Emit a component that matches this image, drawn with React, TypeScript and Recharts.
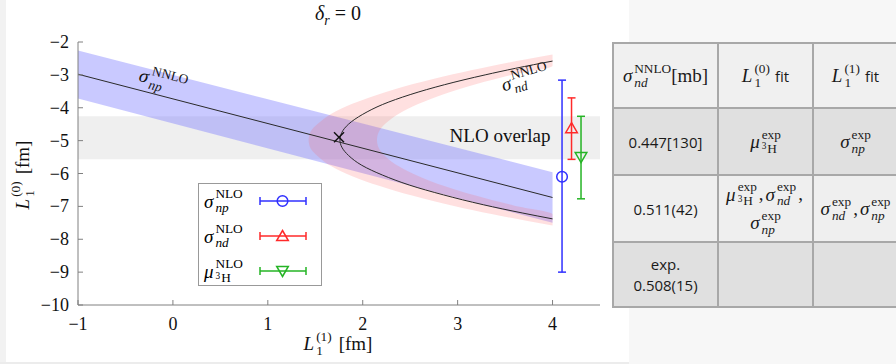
import React from 'react';
import { ComposedChart, XAxis, YAxis, Area, Line, Scatter, ErrorBar } from 'recharts';

const SERIF = '"Liberation Serif", "DejaVu Serif", serif';
const SANS = '"Open Sans", "Liberation Sans", sans-serif';

// axis ticks
const xTicks = [-1, 0, 1, 2, 3, 4];
const yTicks = [-10, -9, -8, -7, -6, -5, -4, -3, -2];
const xDomain = [-1, 4.5];
const yDomain = [-10, -2];

// sigma_np NNLO band: x-extent of the band for each L1(0) value
const npBandY = [-2.26, -3.72, -5.96, -7.5];
const npBandLeft = [-1, -1, 1.96, 4];
const npBandRight = [-1, 0.97, 4, 4];

// sigma_np NNLO central line
const npLineY = [-2.98, -6.73];
const npLineX = [-1, 4];

// sigma_nd NNLO central curve
const ndCurveY = [-2.58, -2.8, -3.0, -3.3, -3.6, -3.9, -4.2, -4.5, -4.75, -4.98, -5.2, -5.45, -5.75, -6.05, -6.35, -6.65, -6.95, -7.2, -7.38];
const ndCurveX = [4.0, 3.61, 3.29, 2.86, 2.5, 2.21, 2.0, 1.85, 1.78, 1.76, 1.78, 1.85, 1.99, 2.21, 2.49, 2.85, 3.27, 3.68, 4.0];

// sigma_nd NNLO band
const ndBandY = [-2.38, -2.53, -2.72, -2.98, -3.28, -3.58, -3.88, -4.18, -4.48, -4.73, -4.98, -5.23, -5.48, -5.78, -6.08, -6.38, -6.68, -6.98, -7.24, -7.43, -7.58];
const ndBandLeft = [4.0, 3.71, 3.37, 2.95, 2.53, 2.18, 1.89, 1.67, 1.53, 1.45, 1.43, 1.45, 1.53, 1.67, 1.89, 2.18, 2.53, 2.95, 3.37, 3.71, 4.0];
const ndBandRight = [4.0, 4.0, 4.0, 3.6, 3.2, 2.86, 2.59, 2.38, 2.24, 2.17, 2.15, 2.17, 2.24, 2.38, 2.59, 2.86, 3.2, 3.6, 4.0, 4.0, 4.0];

// NLO overlap region
const overlapY = [-4.26, -5.57];
const overlapX = [-1, 4.5];

// intersection marker
const crossX = [1.75];
const crossY = [-4.9];

// NLO determinations with error bars
const nloX = [4.1, 4.2, 4.3];
const nloY = [-6.1, -4.62, -5.5];
const nloErrDown = [2.9, 0.95, 1.27];
const nloErrUp = [2.94, 0.92, 1.24];

const nloColors = ['#3030ff', '#ff2a2a', '#25b425'];
const AXIS = '#808080';

const fmt = (v: number) => (v < 0 ? '\u2212' + Math.abs(v) : String(v));

const BottomTick = (p: any) => (
  <g>
    <line x1={p.x} y1={p.y} x2={p.x} y2={p.y - 5} stroke={AXIS} />
    <text x={p.x} y={p.y + 25} textAnchor="middle" fontFamily={SERIF} fontSize={18} fill="#111">{fmt(p.payload.value)}</text>
  </g>
);
const TopTick = (p: any) => <line x1={p.x} y1={p.y} x2={p.x} y2={p.y + 5} stroke={AXIS} />;
const LeftTick = (p: any) => (
  <g>
    <line x1={p.x} y1={p.y} x2={p.x + 5} y2={p.y} stroke={AXIS} />
    <text x={p.x - 9} y={p.y + 6} textAnchor="end" fontFamily={SERIF} fontSize={18} fill="#111">{fmt(p.payload.value)}</text>
  </g>
);
const RightTick = (p: any) => <line x1={p.x} y1={p.y} x2={p.x - 5} y2={p.y} stroke={AXIS} />;

const markCircle = (color: string) => (p: any) => (
  <circle cx={p.cx} cy={p.cy} r={5.3} fill="none" stroke={color} strokeWidth={1.5} />
);
const markTriUp = (color: string) => (p: any) => (
  <path d={`M${p.cx},${p.cy - 5.5} L${p.cx + 5.8},${p.cy + 4.5} L${p.cx - 5.8},${p.cy + 4.5} Z`} fill="none" stroke={color} strokeWidth={1.5} />
);
const markTriDown = (color: string) => (p: any) => (
  <path d={`M${p.cx},${p.cy + 5.5} L${p.cx + 5.8},${p.cy - 4.5} L${p.cx - 5.8},${p.cy - 4.5} Z`} fill="none" stroke={color} strokeWidth={1.5} />
);
const markCross = (p: any) => (
  <g stroke="#111" strokeWidth={1.4}>
    <line x1={p.cx - 5} y1={p.cy - 5} x2={p.cx + 5} y2={p.cy + 5} />
    <line x1={p.cx - 5} y1={p.cy + 5} x2={p.cx + 5} y2={p.cy - 5} />
  </g>
);

function Scr({ base, sup, sub, size, baseItalic = true, subItalic = true, font = SERIF }: any) {
  return (
    <span style={{ display: 'inline-flex', alignItems: 'center', fontFamily: font, lineHeight: 1 }}>
      <span style={{ fontStyle: baseItalic ? 'italic' : 'normal', fontSize: size }}>{base}</span>
      <span style={{ display: 'inline-flex', flexDirection: 'column', fontSize: size * 0.7, lineHeight: 1.05, marginLeft: 2 }}>
        <span style={{ fontStyle: 'normal' }}>{sup}</span>
        <span style={{ fontStyle: subItalic ? 'italic' : 'normal' }}>{sub}</span>
      </span>
    </span>
  );
}

const H3 = (
  <span style={{ fontStyle: 'normal', whiteSpace: 'nowrap' }}>
    <span style={{ fontSize: '0.7em', position: 'relative', top: '-0.35em', marginRight: 1 }}>3</span>H
  </span>
);

const abs = (left: number, top: number, extra: any = {}) => ({
  position: 'absolute' as const, left, top, ...extra,
});

function LegendRow({ top, label, color, shape }: any) {
  return (
    <div style={{ position: 'absolute', left: 0, top, width: 124, height: 30 }}>
      <div style={{ position: 'absolute', left: 5, top: 0, height: 30, display: 'flex', alignItems: 'center' }}>{label}</div>
      <svg style={{ position: 'absolute', left: 60, top: 8 }} width={48} height={14}>
        <line x1={1} y1={7} x2={47} y2={7} stroke={color} strokeWidth={1.5} />
        <line x1={1} y1={3} x2={1} y2={11} stroke={color} strokeWidth={1.5} />
        <line x1={47} y1={3} x2={47} y2={11} stroke={color} strokeWidth={1.5} />
        {shape === 'c' && <circle cx={23.5} cy={7} r={5.3} fill="none" stroke={color} strokeWidth={1.5} />}
        {shape === 'u' && <path d="M23.5,1.5 L29.3,11.5 L17.7,11.5 Z" fill="none" stroke={color} strokeWidth={1.5} />}
        {shape === 'd' && <path d="M23.5,12.5 L29.3,2.5 L17.7,2.5 Z" fill="none" stroke={color} strokeWidth={1.5} />}
      </svg>
    </div>
  );
}

const cellBg = ['#f0f0f0', '#e0e0e0', '#efefef', '#e0e0e0'];
const colEdges = [613, 718, 813, 898];
const rowEdges = [43, 108, 175, 242, 307];

export default function App() {
  const npBand = npBandY.map((y, i) => ({ y, r: [npBandLeft[i], npBandRight[i]] }));
  const ndBand = ndBandY.map((y, i) => ({ y, r: [ndBandLeft[i], ndBandRight[i]] }));
  const overlap = overlapY.map((y) => ({ y, r: overlapX }));
  const npLine = npLineY.map((y, i) => ({ y, x: npLineX[i] }));
  const ndCurve = ndCurveY.map((y, i) => ({ y, x: ndCurveX[i] }));
  const cross = crossX.map((x, i) => ({ x, y: crossY[i] }));
  const nlo = nloX.map((x, i) => [{ x, y: nloY[i], err: [nloErrDown[i], nloErrUp[i]] }]);

  const ms = 19;
  const comma = <span style={{ fontFamily: SERIF, fontSize: ms, margin: '0 2px' }}>,</span>;
  const cells: any[][] = [
    [
      <span style={{ display: 'inline-flex', alignItems: 'center', fontFamily: SERIF }}>
        <Scr base="σ" sup="NNLO" sub="nd" size={ms} />
        <span style={{ fontSize: ms }}>[mb]</span>
      </span>,
      <span style={{ display: 'inline-flex', alignItems: 'center' }}>
        <Scr base="L" sup="(0)" sub="1" size={ms} subItalic={false} />
        <span style={{ fontFamily: SANS, fontSize: 15, marginLeft: 5 }}>fit</span>
      </span>,
      <span style={{ display: 'inline-flex', alignItems: 'center' }}>
        <Scr base="L" sup="(1)" sub="1" size={ms} subItalic={false} />
        <span style={{ fontFamily: SANS, fontSize: 15, marginLeft: 5 }}>fit</span>
      </span>,
    ],
    [
      <span style={{ fontFamily: SANS, fontSize: 15 }}>0.447[130]</span>,
      <Scr base="μ" sup="exp" sub={H3} size={ms} />,
      <Scr base="σ" sup="exp" sub="np" size={ms} />,
    ],
    [
      <span style={{ fontFamily: SANS, fontSize: 15 }}>0.511(42)</span>,
      <div style={{ display: 'flex', flexDirection: 'column', alignItems: 'center', gap: 1 }}>
        <span style={{ display: 'inline-flex', alignItems: 'center' }}>
          <Scr base="μ" sup="exp" sub={H3} size={ms} />{comma}<Scr base="σ" sup="exp" sub="nd" size={ms} />{comma}
        </span>
        <Scr base="σ" sup="exp" sub="np" size={ms} />
      </div>,
      <span style={{ display: 'inline-flex', alignItems: 'center' }}>
        <Scr base="σ" sup="exp" sub="nd" size={ms} />{comma}<Scr base="σ" sup="exp" sub="np" size={ms} />
      </span>,
    ],
    [
      <div style={{ fontFamily: SANS, fontSize: 15, textAlign: 'center', lineHeight: '21px' }}>exp.<br />0.508(15)</div>,
      null,
      null,
    ],
  ];

  return (
    <div style={{ position: 'absolute', left: 0, top: 0, width: 896, height: 364, overflow: 'hidden', background: '#fff' }}>
      <div style={abs(0, 0, { width: 6, height: 364, background: '#f2f2f2' })} />
      <div style={abs(0, 362, { width: 896, height: 2, background: '#ececec' })} />
      <div style={abs(629, 0, { width: 267, height: 364, background: '#f7f7f7' })} />

      <div style={abs(0, 0)}>
        <ComposedChart width={610} height={364} layout="vertical" margin={{ top: 42, right: 10, bottom: 29, left: 0 }}>
          <XAxis xAxisId={0} type="number" dataKey="x" domain={xDomain} ticks={xTicks} interval={0} allowDataOverflow
            height={30} tickSize={0} tickMargin={0} tickLine={false} tick={<BottomTick />} axisLine={{ stroke: AXIS }} />
          <XAxis xAxisId="top" orientation="top" type="number" dataKey="x" domain={xDomain} ticks={xTicks} interval={0} allowDataOverflow
            height={0} tickSize={0} tickMargin={0} tickLine={false} tick={<TopTick />} axisLine={{ stroke: AXIS }} />
          <YAxis yAxisId={0} type="number" dataKey="y" domain={yDomain} ticks={yTicks} interval={0} allowDataOverflow reversed
            width={78} tickSize={0} tickMargin={0} tickLine={false} tick={<LeftTick />} axisLine={{ stroke: AXIS }} />
          <YAxis yAxisId="right" orientation="right" type="number" dataKey="y" domain={yDomain} ticks={yTicks} interval={0} allowDataOverflow reversed
            width={0} tickSize={0} tickMargin={0} tickLine={false} tick={<RightTick />} axisLine={{ stroke: AXIS }} />

          <Area data={overlap} dataKey="r" type="linear" fill="#efefef" fillOpacity={1} stroke="none" isAnimationActive={false} />
          <Area data={npBand} dataKey="r" type="linear" fill="#7878ff" fillOpacity={0.4} stroke="none" isAnimationActive={false} />
          <Area data={ndBand} dataKey="r" type="monotone" fill="#ff6464" fillOpacity={0.2} stroke="none" isAnimationActive={false} />
          <Line data={npLine} dataKey="x" type="linear" stroke="#2a2a2a" strokeWidth={1} dot={false} isAnimationActive={false} />
          <Line data={ndCurve} dataKey="x" type="monotone" stroke="#2a2a2a" strokeWidth={1} dot={false} isAnimationActive={false} />
          <Scatter data={cross} dataKey="x" shape={markCross} isAnimationActive={false} />
          <Scatter data={nlo[0]} dataKey="x" shape={markCircle(nloColors[0])} isAnimationActive={false}>
            <ErrorBar dataKey="err" direction="y" width={4} stroke={nloColors[0]} strokeWidth={1.5} />
          </Scatter>
          <Scatter data={nlo[1]} dataKey="x" shape={markTriUp(nloColors[1])} isAnimationActive={false}>
            <ErrorBar dataKey="err" direction="y" width={4} stroke={nloColors[1]} strokeWidth={1.5} />
          </Scatter>
          <Scatter data={nlo[2]} dataKey="x" shape={markTriDown(nloColors[2])} isAnimationActive={false}>
            <ErrorBar dataKey="err" direction="y" width={4} stroke={nloColors[2]} strokeWidth={1.5} />
          </Scatter>
        </ComposedChart>
      </div>

      {/* title */}
      <div style={abs(338, 15, { transform: 'translate(-50%, -50%)', fontFamily: SERIF, fontSize: 20, whiteSpace: 'nowrap', color: '#111' })}>
        <i>δ</i><sub style={{ fontSize: 14, fontStyle: 'italic' }}>r</sub> = 0
      </div>
      {/* axis labels */}
      <div style={abs(338, 344, { transform: 'translate(-50%, -50%)', whiteSpace: 'nowrap', color: '#111', display: 'flex', alignItems: 'center' })}>
        <Scr base="L" sup="(1)" sub="1" size={19} subItalic={false} />
        <span style={{ fontFamily: SERIF, fontSize: 19, marginLeft: 7 }}>[fm]</span>
      </div>
      <div style={abs(23, 175, { transform: 'translate(-50%, -50%) rotate(-90deg)', whiteSpace: 'nowrap', color: '#111', display: 'flex', alignItems: 'center' })}>
        <Scr base="L" sup="(0)" sub="1" size={19} subItalic={false} />
        <span style={{ fontFamily: SERIF, fontSize: 19, marginLeft: 7 }}>[fm]</span>
      </div>

      {/* curve annotations */}
      <div style={abs(163, 81, { transform: 'translate(-50%, -50%) rotate(14.5deg)', whiteSpace: 'nowrap', color: '#111' })}>
        <Scr base="σ" sup="NNLO" sub="np" size={19} />
      </div>
      <div style={abs(525, 79, { transform: 'translate(-50%, -50%) rotate(-16deg)', whiteSpace: 'nowrap', color: '#111' })}>
        <Scr base="σ" sup="NNLO" sub="nd" size={19} />
      </div>
      <div style={abs(500, 136, { transform: 'translate(-50%, -50%)', whiteSpace: 'nowrap', fontFamily: SERIF, fontSize: 19, color: '#111' })}>
        NLO overlap
      </div>

      {/* legend */}
      <div style={abs(198, 183, { width: 124, height: 103, boxSizing: 'border-box', border: '1px solid #999', background: '#fff' })}>
        <LegendRow top={2} color={nloColors[0]} shape="c" label={<Scr base="σ" sup="NLO" sub="np" size={19} />} />
        <LegendRow top={37} color={nloColors[1]} shape="u" label={<Scr base="σ" sup="NLO" sub="nd" size={19} />} />
        <LegendRow top={72} color={nloColors[2]} shape="d" label={<Scr base="μ" sup="NLO" sub={H3} size={19} />} />
      </div>

      {/* table */}
      <div style={abs(colEdges[0] - 1, rowEdges[0] - 1, { width: colEdges[3] - colEdges[0] + 2, height: rowEdges[4] - rowEdges[0] + 2, background: '#a8a8a8' })} />
      {cells.map((row, r) =>
        row.map((c, k) => (
          <div key={`${r}-${k}`} style={abs(colEdges[k] + 1, rowEdges[r] + 1, {
            width: colEdges[k + 1] - colEdges[k] - 2, height: rowEdges[r + 1] - rowEdges[r] - 2,
            background: cellBg[r], display: 'flex', alignItems: 'center', justifyContent: 'center', color: '#1a1a1a',
          })}>{c}</div>
        ))
      )}
    </div>
  );
}
